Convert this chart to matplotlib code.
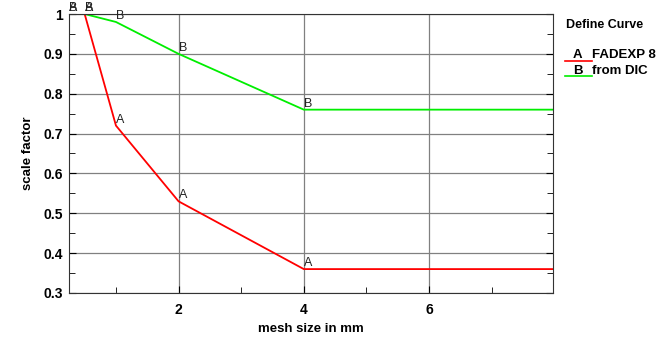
import matplotlib
matplotlib.use("Agg")
import matplotlib.pyplot as plt
from matplotlib.ticker import MultipleLocator

plt.rcParams['font.family'] = ['Liberation Sans', 'DejaVu Sans']

x_vals = [0.25, 0.5, 1, 2, 4, 8]
curve_a = [1.0, 1.0, 0.72, 0.53, 0.36, 0.36]
curve_b = [1.0, 1.0, 0.98, 0.90, 0.76, 0.76]
label_a = "FADEXP 8"
label_b = "from DIC"

fig = plt.figure(figsize=(6.69, 3.37), dpi=100)
ax = fig.add_axes([69/669, 1-293/337, (553-69)/669, (293-14)/337])

ax.plot(x_vals, curve_a, color='#ff0000', lw=1.3, solid_joinstyle='miter')
ax.plot(x_vals, curve_b, color='#00ee00', lw=1.3, solid_joinstyle='miter')
for xv, ya, yb in zip(x_vals[:-1], curve_a[:-1], curve_b[:-1]):
    ax.text(xv, ya, 'A', fontsize=9, ha='left', va='bottom', color='#222222')
    ax.text(xv, yb, 'B', fontsize=9, ha='left', va='bottom', color='#222222')

ax.set_xlim(0.25, 7.98)
ax.set_ylim(0.3, 1.0)
ax.xaxis.set_major_locator(MultipleLocator(2))
ax.xaxis.set_minor_locator(MultipleLocator(1))
ax.yaxis.set_major_locator(MultipleLocator(0.1))
ax.yaxis.set_minor_locator(MultipleLocator(0.05))
ax.set_yticks([0.3, 0.4, 0.5, 0.6, 0.7, 0.8, 0.9, 1.0])
ax.set_yticklabels(['0.3', '0.4', '0.5', '0.6', '0.7', '0.8', '0.9', '1'])
ax.grid(True, which='major', color='#808080', lw=0.9)
ax.tick_params(which='both', direction='in', right=True, top=False, labelsize=10)
ax.tick_params(axis='y', pad=4.5)
ax.tick_params(axis='x', pad=7)
ax.tick_params(which='major', length=5)
ax.tick_params(which='minor', length=4)
for lab in ax.get_xticklabels() + ax.get_yticklabels():
    lab.set_fontweight('bold')
for s in ax.spines.values():
    s.set_color('#333333')

ax.set_xlabel('mesh size in mm', fontsize=9.5, fontweight='bold')
ax.xaxis.set_label_coords((311-69)/(553-69), -(329-293)/(293-14))
ax.xaxis.label.set_va('center')
ax.set_ylabel('scale factor', fontsize=9.5, fontweight='bold')
ax.yaxis.set_label_coords(-(69-28)/(553-69), 0.5)
ax.yaxis.label.set_va('center')

fig.text(566/669, 1-25/337, 'Define Curve', fontsize=9, fontweight='bold', va='center')
fig.add_artist(plt.Line2D([565/669, 592/669], [1-61/337]*2, color='#ff0000', lw=1.2))
fig.add_artist(plt.Line2D([565/669, 592/669], [1-76/337]*2, color='#00ee00', lw=1.2))
fig.text(573/669, 1-55/337, 'A', fontsize=9.5, fontweight='bold', va='center')
fig.text(573/669, 1-71/337, 'B', fontsize=9.5, fontweight='bold', va='center')
fig.text(592/669, 1-55/337, label_a, fontsize=9.5, fontweight='bold', va='center')
fig.text(592/669, 1-71/337, label_b, fontsize=9.5, fontweight='bold', va='center')

fig.savefig('out.png', dpi=100)
